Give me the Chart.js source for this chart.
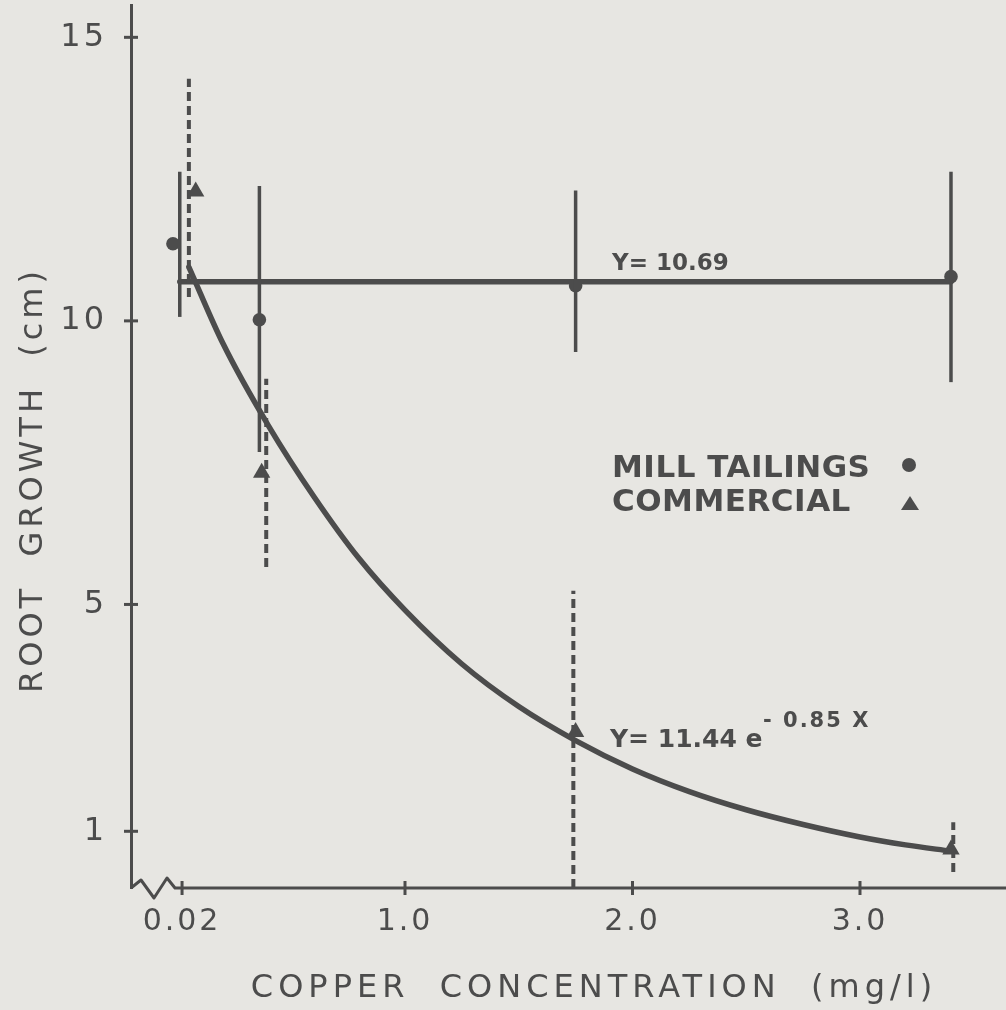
<!DOCTYPE html>
<html>
<head>
<meta charset="utf-8">
<script src="https://cdn.jsdelivr.net/npm/chart.js@4.4.1/dist/chart.umd.min.js"></script>
<style>
  html, body { margin: 0; padding: 0; background: #e7e6e2; }
  canvas { display: block; }
</style>
</head>
<body>
<canvas id="roots" width="1006" height="1010"></canvas>
<script>
// mill tailings (circles, solid bars)
var millX = [-0.02, 0.36, 1.75, 3.40],
    millY = [11.36, 10.02, 10.62, 10.78],
    millBarX = [0.01, 0.36, 1.75, 3.40],
    millLow = [10.07, 7.69, 9.45, 8.92],
    millHigh = [12.63, 12.38, 12.30, 12.63];

// commercial (triangles, dashed bars)
var commX = [0.08, 0.37, 1.75, 3.40],
    commY = [12.28, 7.32, 2.75, 0.68],
    commBarX = [0.05, 0.39, 1.74, 3.41],
    commLow = [10.42, 5.66, 0.0, 0.28],
    commHigh = [14.27, 8.98, 5.24, 1.16];

// fitted lines
var flatX = [0.01, 3.40],
    flatY = [10.69, 10.69],
    fitX = [0.05, 0.2, 0.4, 0.6, 0.8, 1.0, 1.25, 1.5, 1.75, 2.0, 2.25, 2.5, 2.75, 3.0, 3.2, 3.4],
    fitY = [10.95, 9.6, 8.15, 6.9, 5.8, 4.9, 3.95, 3.2, 2.6, 2.1, 1.7, 1.38, 1.12, 0.9, 0.76, 0.65];

var xTicks = [0.02, 1, 2, 3],
    xTickLabels = ["0.02", "1.0", "2.0", "3.0"],
    yTicks = [1, 5, 10, 15],
    yTickLabels = ["1", "5", "10", "15"];

var xTitle = "COPPER  CONCENTRATION  (mg/l)",
    yTitle = "ROOT  GROWTH  (cm)";

var ink = "#4c4c4c",
    font = "DejaVu Sans";

function pts(xs, ys) {
    return xs.map(function (x, i) { return { x: x, y: ys[i] }; });
}

var datasets = [];

millBarX.forEach(function (x, i) {
    datasets.push({
        data: [{ x: x, y: millLow[i] }, { x: x, y: millHigh[i] }],
        showLine: true, borderColor: ink, borderWidth: 3.5, pointRadius: 0
    });
});

commBarX.forEach(function (x, i) {
    datasets.push({
        data: [{ x: x, y: commLow[i] }, { x: x, y: commHigh[i] }],
        showLine: true, borderColor: ink, borderWidth: 4, borderDash: [9, 5], pointRadius: 0
    });
});

datasets.push({
    data: pts(flatX, flatY),
    showLine: true, borderColor: ink, borderWidth: 5.5, borderCapStyle: "round", pointRadius: 0
});

datasets.push({
    data: pts(fitX, fitY),
    showLine: true, borderColor: ink, borderWidth: 5.5, borderCapStyle: "round",
    cubicInterpolationMode: "monotone", pointRadius: 0
});

datasets.push({
    data: pts(millX, millY),
    pointStyle: "circle", pointRadius: 6.8, backgroundColor: ink, borderWidth: 0
});

datasets.push({
    data: pts(commX, commY),
    pointStyle: "triangle", pointRadius: 10, backgroundColor: ink, borderWidth: 0
});

var paper = {
    id: "paper",
    beforeDraw: function (chart) {
        chart.ctx.letterSpacing = "3px";
    },
    afterDraw: function (chart) {
        var ctx = chart.ctx,
            xs = chart.scales.x,
            ys = chart.scales.y,
            x0 = chart.chartArea.left,
            y0 = ys.getPixelForValue(0);

        ctx.save();
        ctx.strokeStyle = ink;
        ctx.fillStyle = ink;
        ctx.lineWidth = 3;
        ctx.lineJoin = "round";

        // x axis with break
        ctx.beginPath();
        ctx.moveTo(x0, y0);
        ctx.lineTo(x0 + 10, y0 - 8);
        ctx.lineTo(x0 + 23, y0 + 10);
        ctx.lineTo(x0 + 36, y0 - 10);
        ctx.lineTo(x0 + 44, y0);
        ctx.lineTo(chart.chartArea.right, y0);
        ctx.stroke();

        // tick marks crossing the axes
        xTicks.forEach(function (v) {
            var p = xs.getPixelForValue(v);
            ctx.beginPath();
            ctx.moveTo(p, y0 - 7);
            ctx.lineTo(p, y0 + 7);
            ctx.stroke();
        });
        yTicks.forEach(function (v) {
            var p = ys.getPixelForValue(v);
            ctx.beginPath();
            ctx.moveTo(x0 - 7, p);
            ctx.lineTo(x0 + 7, p);
            ctx.stroke();
        });

        // axis titles
        ctx.font = "32px '" + font + "'";
        ctx.textAlign = "center";
        ctx.textBaseline = "middle";
        ctx.letterSpacing = "5px";
        ctx.fillText(xTitle, 594, 989);
        ctx.letterSpacing = "4px";
        ctx.save();
        ctx.translate(34, 482);
        ctx.rotate(-Math.PI / 2);
        ctx.fillText(yTitle, 2, 0);
        ctx.restore();

        // equations
        ctx.letterSpacing = "0px";
        ctx.textAlign = "left";
        ctx.textBaseline = "alphabetic";
        ctx.font = "bold 23px '" + font + "'";
        ctx.fillText("Y= 10.69", 612, 270);
        ctx.font = "bold 25px '" + font + "'";
        ctx.fillText("Y= 11.44 e", 610, 747);
        ctx.letterSpacing = "2px";
        ctx.font = "bold 21px '" + font + "'";
        ctx.fillText("- 0.85 X", 763, 727);

        // legend
        ctx.letterSpacing = "0.5px";
        ctx.font = "bold 31px '" + font + "'";
        ctx.fillText("MILL TAILINGS", 612, 477);
        ctx.fillText("COMMERCIAL", 612, 511);
        ctx.beginPath();
        ctx.arc(909, 465, 7, 0, Math.PI * 2);
        ctx.fill();
        ctx.beginPath();
        ctx.moveTo(910, 496);
        ctx.lineTo(919, 510);
        ctx.lineTo(901, 510);
        ctx.closePath();
        ctx.fill();

        ctx.restore();
    }
};

new Chart(document.getElementById("roots"), {
    type: "scatter",
    data: { datasets: datasets },
    plugins: [paper],
    options: {
        responsive: false,
        animation: false,
        layout: { autoPadding: false, padding: { top: 5, right: 0, bottom: 0, left: 0 } },
        plugins: { legend: { display: false }, tooltip: { enabled: false } },
        scales: {
            x: {
                type: "linear",
                min: -0.2044,
                max: 3.6418,
                afterFit: function (s) {
                    s.height = 122;
                    s.paddingLeft = 0;
                    s.paddingRight = 0;
                },
                afterBuildTicks: function (s) {
                    s.ticks = xTicks.map(function (v) { return { value: v }; });
                },
                grid: { display: false, drawTicks: false },
                border: { display: false },
                ticks: {
                    autoSkip: false,
                    maxRotation: 0,
                    padding: 16,
                    color: ink,
                    font: { family: font, size: 30 },
                    callback: function (v, i) { return xTickLabels[i]; }
                }
            },
            y: {
                min: 0,
                max: 15.57,
                afterFit: function (s) {
                    s.width = 131;
                    s.paddingTop = 0;
                    s.paddingBottom = 0;
                },
                afterBuildTicks: function (s) {
                    s.ticks = yTicks.map(function (v) { return { value: v }; });
                },
                grid: { display: false, drawTicks: false },
                border: { display: true, color: ink, width: 3 },
                ticks: {
                    autoSkip: false,
                    padding: 24,
                    color: ink,
                    font: { family: font, size: 32 },
                    callback: function (v, i) { return yTickLabels[i]; }
                }
            }
        }
    }
});
</script>
</body>
</html>
